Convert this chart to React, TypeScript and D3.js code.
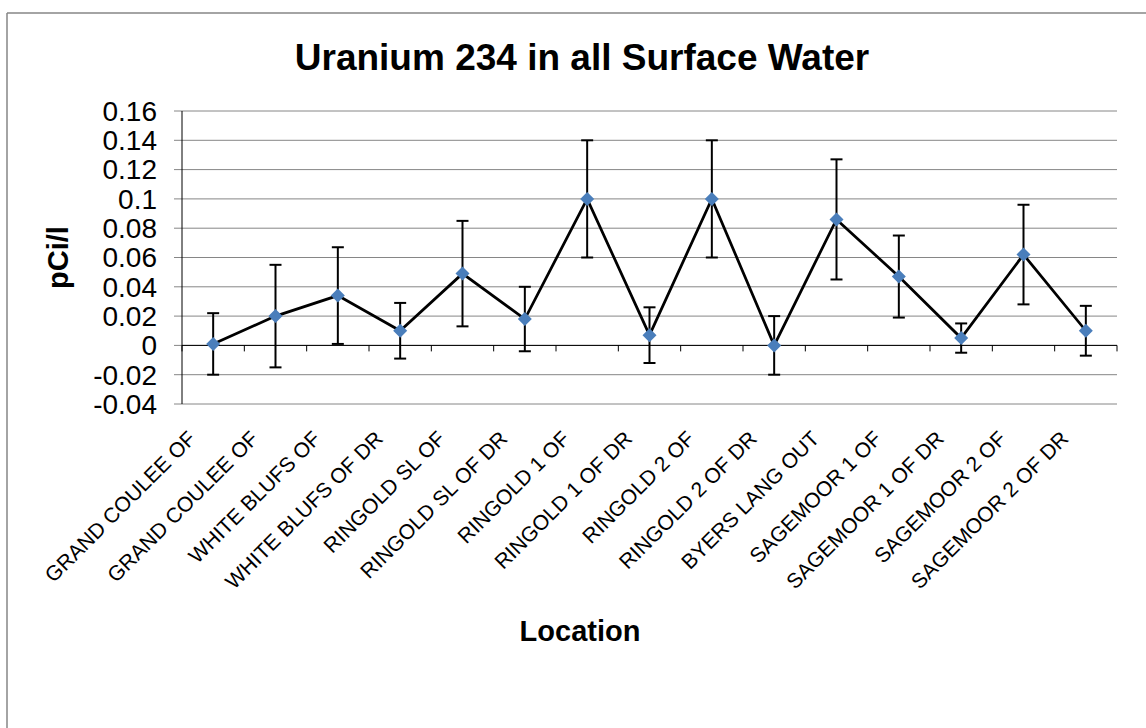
import React from "react";
import * as d3 from "d3";

const categories = [
  "GRAND COULEE OF",
  "GRAND COULEE OF",
  "WHITE BLUFS OF",
  "WHITE BLUFS OF DR",
  "RINGOLD SL OF",
  "RINGOLD SL OF DR",
  "RINGOLD 1 OF",
  "RINGOLD 1 OF DR",
  "RINGOLD 2 OF",
  "RINGOLD 2 OF DR",
  "BYERS LANG OUT",
  "SAGEMOOR 1 OF",
  "SAGEMOOR 1 OF DR",
  "SAGEMOOR 2 OF",
  "SAGEMOOR 2 OF DR",
];
const values = [0.001, 0.02, 0.034, 0.01, 0.049, 0.018, 0.1, 0.007, 0.1, 0.0, 0.086, 0.047, 0.005, 0.062, 0.01];
const errors = [0.021, 0.035, 0.033, 0.019, 0.036, 0.022, 0.04, 0.019, 0.04, 0.02, 0.041, 0.028, 0.01, 0.034, 0.017];
const yTicks = [-0.04, -0.02, 0, 0.02, 0.04, 0.06, 0.08, 0.1, 0.12, 0.14, 0.16];

const W = 1146;
const H = 728;
const left = 182;
const right = 1117;
const top = 111;
const bottom = 404;
const FONT = "Arial, 'Liberation Sans', sans-serif";

export default function App() {
  const x = d3.scaleBand<number>().domain(d3.range(categories.length)).range([left, right]).padding(0);
  const y = d3.scaleLinear().domain([-0.04, 0.16]).range([bottom, top]);
  const cx = (i: number) => (x(i) as number) + x.bandwidth() / 2;
  const line = d3
    .line<number>()
    .x((_, i) => cx(i))
    .y((d) => y(d));
  const diamond = d3.symbol().type(d3.symbolDiamond2).size(125)();
  const boundaries = d3.range(categories.length + 1).map((i) => left + i * x.bandwidth());

  return (
    <svg width={W} height={H} style={{ position: "absolute", left: 0, top: 0, background: "#fff" }} fontFamily={FONT}>
      <rect x={0} y={0} width={W} height={H} fill="#fff" />
      {/* outer border (top & left) */}
      <line x1={7} y1={13} x2={W} y2={13} stroke="#868686" strokeWidth={1.5} />
      <line x1={7} y1={13} x2={7} y2={H} stroke="#868686" strokeWidth={1.5} />

      <text x={582} y={70} textAnchor="middle" fontSize={37} fontWeight="bold" fill="#000">
        Uranium 234 in all Surface Water
      </text>

      {/* gridlines */}
      {yTicks.map((t) => (
        <line key={t} x1={left - 8} x2={right} y1={y(t)} y2={y(t)} stroke="#868686" strokeWidth={1} />
      ))}
      {/* y axis */}
      <line x1={left} x2={left} y1={top} y2={bottom} stroke="#000" strokeWidth={1} />
      {yTicks.map((t) => (
        <text key={"l" + t} x={157} y={y(t)} dy="0.35em" textAnchor="end" fontSize={28} fill="#000">
          {String(t)}
        </text>
      ))}
      {/* x axis at zero */}
      <line x1={left} x2={right} y1={y(0)} y2={y(0)} stroke="#000" strokeWidth={1} />
      {boundaries.map((b, i) => (
        <line key={"t" + i} x1={b} x2={b} y1={y(0)} y2={y(0) + 6} stroke="#000" strokeWidth={1} />
      ))}

      {/* x labels */}
      {categories.map((c, i) => (
        <text
          key={"c" + i}
          transform={`translate(${cx(i) - 16},${440}) rotate(-45)`}
          textAnchor="end"
          fontSize={21}
          fill="#000"
        >
          {c}
        </text>
      ))}

      <text x={580} y={641} textAnchor="middle" fontSize={29} fontWeight="bold" fill="#000">
        Location
      </text>
      <text transform={`translate(68,${(top + bottom) / 2}) rotate(-90)`} textAnchor="middle" fontSize={29} fontWeight="bold" fill="#000">
        pCi/l
      </text>

      {/* series line */}
      <path d={line(values) || ""} fill="none" stroke="#000" strokeWidth={2.75} strokeLinejoin="miter" />

      {/* error bars */}
      {values.map((v, i) => (
        <g key={"e" + i} stroke="#000" strokeWidth={2}>
          <line x1={cx(i)} x2={cx(i)} y1={y(v + errors[i])} y2={y(v - errors[i])} />
          <line x1={cx(i) - 6} x2={cx(i) + 6} y1={y(v + errors[i])} y2={y(v + errors[i])} />
          <line x1={cx(i) - 6} x2={cx(i) + 6} y1={y(v - errors[i])} y2={y(v - errors[i])} />
        </g>
      ))}

      {/* markers */}
      {values.map((v, i) => (
        <path key={"m" + i} d={diamond || ""} transform={`translate(${cx(i)},${y(v)})`} fill="#4a7ebb" />
      ))}
    </svg>
  );
}
